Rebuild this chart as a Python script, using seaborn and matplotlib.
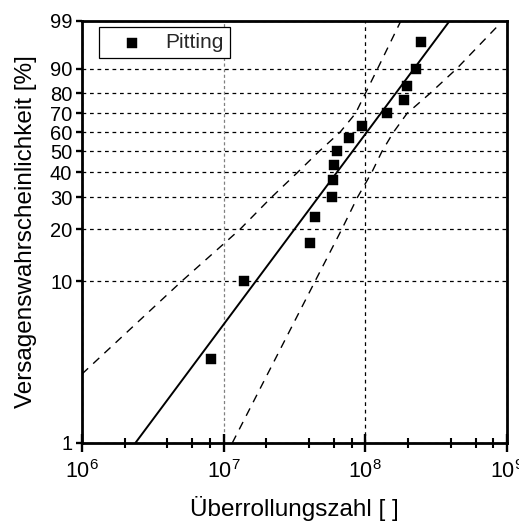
import numpy as np
import pandas as pd
import matplotlib
matplotlib.use("Agg")
import matplotlib.pyplot as plt
import seaborn as sns
from matplotlib.ticker import FixedLocator, FixedFormatter, NullLocator, NullFormatter

# ---------------- data ----------------
cycles = [8.2e6, 1.39e7, 4.09e7, 4.39e7, 5.82e7, 5.94e7, 6.04e7, 6.28e7,
          7.7e7, 9.5e7, 1.42e8, 1.88e8, 1.96e8, 2.28e8, 2.48e8]
failure_pct = [3.33, 10.0, 16.67, 23.33, 30.0, 36.67, 43.33, 50.0,
               56.67, 63.33, 70.0, 76.67, 83.33, 90.0, 96.67]

fit_pct = [1.0, 99.0]
fit_cycles = [2.38e6, 3.93e8]

upper_bound_pct = [2.7, 10, 20, 30, 40, 50, 60, 70, 80, 90, 99]
upper_bound_cycles = [1.0e6, 5.06e6, 1.30e7, 2.18e7, 3.32e7, 4.71e7, 6.63e7,
                      8.53e7, 1.00e8, 1.22e8, 1.78e8]

lower_bound_pct = [1, 10, 20, 30, 40, 50, 60, 70, 80, 90, 98.8]
lower_bound_cycles = [1.15e7, 4.42e7, 6.81e7, 8.81e7, 1.11e8, 1.31e8, 1.58e8,
                      1.97e8, 2.86e8, 4.41e8, 8.9e8]

y_ticks = [1, 10, 20, 30, 40, 50, 60, 70, 80, 90, 99]
x_ticks = [1e6, 1e7, 1e8, 1e9]
x_tick_labels = [r"$10^{6}$", r"$10^{7}$", r"$10^{8}$", r"$10^{9}$"]
legend_label = "Pitting"
x_label = "Überrollungszahl [ ]"
y_label = "Versagenswahrscheinlichkeit [%]"

# ---------------- style ----------------
sns.set_theme(style="white")
plt.rcParams["font.family"] = ["Liberation Sans", "DejaVu Sans"]
plt.rcParams["mathtext.default"] = "regular"


def weibull_fwd(p):
    p = np.clip(np.asarray(p, dtype=float), 1e-6, 100 - 1e-6)
    return np.log(-np.log(1.0 - p / 100.0))


def weibull_inv(w):
    w = np.asarray(w, dtype=float)
    return 100.0 * (1.0 - np.exp(-np.exp(w)))


fig = plt.figure(figsize=(5.19, 5.23), dpi=100)
ax = fig.add_axes([82 / 519, 1 - 443 / 523, (507 - 82) / 519, (443 - 21) / 523])
ax.set_xscale("log")
ax.set_yscale("function", functions=(weibull_fwd, weibull_inv))
ax.set_xlim(1e6, 1e9)
ax.set_ylim(1, 99)

# grid
ax.set_axisbelow(True)
ax.grid(True, which="major", axis="both", color="black",
        linestyle=(0, (3, 3)), linewidth=0.9)

# lines
sns.lineplot(x=fit_cycles, y=fit_pct, color="black", linewidth=1.4,
             sort=False, ax=ax, legend=False)
sns.lineplot(x=upper_bound_cycles, y=upper_bound_pct, color="black",
             linewidth=1.0, linestyle=(0, (6, 5)), sort=False, ax=ax,
             legend=False)
sns.lineplot(x=lower_bound_cycles, y=lower_bound_pct, color="black",
             linewidth=1.0, linestyle=(0, (6, 5)), sort=False, ax=ax,
             legend=False)

# points
sns.scatterplot(x=cycles, y=failure_pct, marker="s", s=60, color="black",
                edgecolor="black", linewidth=0.3, label=legend_label,
                ax=ax, zorder=5)

# ticks
ax.yaxis.set_major_locator(FixedLocator(y_ticks))
ax.yaxis.set_major_formatter(FixedFormatter([str(t) for t in y_ticks]))
ax.yaxis.set_minor_locator(NullLocator())
ax.xaxis.set_major_locator(FixedLocator(x_ticks))
ax.xaxis.set_major_formatter(FixedFormatter(x_tick_labels))
minor = [m * 10 ** e for e in range(6, 9) for m in (2, 4, 6, 8)]
ax.xaxis.set_minor_locator(FixedLocator(minor))
ax.xaxis.set_minor_formatter(NullFormatter())

# style x=1e7 gridline gray
gl = ax.xaxis.get_gridlines()
if len(gl) > 1:
    gl[1].set_color("#808080")
    gl[1].set_linestyle((0, (2.5, 2)))

ax.tick_params(axis="x", which="major", direction="inout", length=13,
               width=1.7, labelsize=15.5, pad=6, colors="black")
ax.tick_params(axis="x", which="minor", direction="inout", length=7,
               width=1.5, colors="black")
ax.tick_params(axis="y", which="major", direction="out", length=4,
               width=1.7, labelsize=14.5, pad=3, colors="black")
ax.tick_params(left=True, bottom=True, which="both")

for sp in ax.spines.values():
    sp.set_linewidth(2.0)
    sp.set_color("black")
    sp.set_visible(True)

ax.set_xlabel(x_label, fontsize=17.5, labelpad=9, color="black")
ax.set_ylabel(y_label, fontsize=17.5, labelpad=9, color="black")

leg = ax.legend(loc="upper left", bbox_to_anchor=(0.04, 0.986),
                borderaxespad=0, frameon=True, fancybox=False, shadow=False,
                framealpha=1, edgecolor="black", fontsize=15,
                borderpad=0.3, handlelength=2.6, handletextpad=0.3,
                markerscale=1.0)
leg.get_frame().set_linewidth(0.9)

fig.savefig("out.png", dpi=100, facecolor="white")
